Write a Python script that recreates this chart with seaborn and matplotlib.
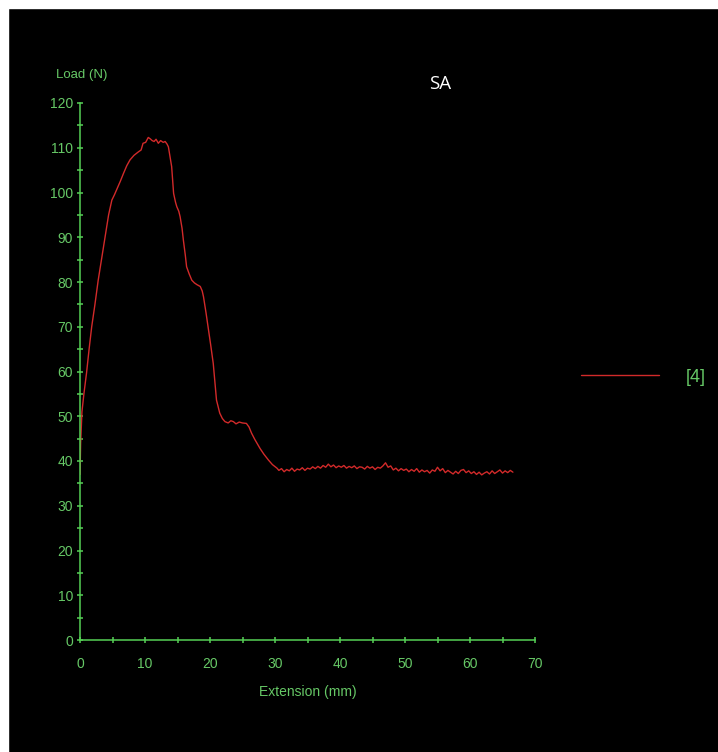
import numpy as np
import pandas as pd
import matplotlib
matplotlib.use("Agg")
import matplotlib.pyplot as plt
from matplotlib.patches import Rectangle
from matplotlib.ticker import MultipleLocator
import seaborn as sns

# Load-extension curve (sample SA, specimen [4])
extension = [
    0.0, 0.1, 0.3, 0.6, 1.0, 1.4, 1.8, 2.3, 2.8, 3.3, 3.85, 4.4, 4.9, 5.3, 5.6,
    6.2, 6.7, 7.2, 7.7, 8.3, 9.0, 9.4, 9.7, 10.1, 10.5, 10.8, 11.1, 11.4, 11.7,
    12.05, 12.4, 12.8, 13.1, 13.4, 13.6, 13.85, 14.1, 14.4, 14.7, 14.9, 15.2,
    15.4, 15.7, 15.9, 16.2, 16.4, 16.8, 17.2, 17.6, 18.0, 18.5, 18.8, 19.0,
    19.4, 19.7, 20.1, 20.5, 20.8, 21.0, 21.3, 21.5, 21.9, 22.3, 22.8, 23.2,
    23.6, 24.0, 24.5, 25.0, 25.6, 26.0, 26.4, 26.9, 27.3, 27.7, 28.3, 29.0,
    29.6, 30.3,
    30.6, 31.0, 31.4, 31.8, 32.2, 32.6, 33.0, 33.4, 33.8, 34.2, 34.6, 35.0,
    35.4, 35.8, 36.2, 36.6, 37.0, 37.4, 37.8, 38.2, 38.6, 39.0, 39.4, 39.8,
    40.2, 40.6, 41.0, 41.4, 41.8, 42.2, 42.6, 43.0, 43.4, 43.8, 44.2, 44.6,
    45.0, 45.4, 45.8, 46.2, 46.6, 47.0, 47.4, 47.8, 48.2, 48.6, 49.0, 49.4,
    49.8, 50.2, 50.6, 51.0, 51.4, 51.8, 52.2, 52.6, 53.0, 53.4, 53.8, 54.2,
    54.6, 55.0, 55.4, 55.8, 56.2, 56.6, 57.0, 57.4, 57.8, 58.2, 58.6, 59.0,
    59.4, 59.8, 60.2, 60.6, 61.0, 61.4, 61.8, 62.2, 62.6, 63.0, 63.4, 63.8,
    64.2, 64.6, 65.0, 65.4, 65.8, 66.2, 66.6,
]
load = [
    37.0, 44.0, 51.0, 55.0, 59.6, 65.0, 70.0, 75.0, 80.4, 85.0, 90.0, 95.0, 98.3, 99.5, 100.5,
    102.5, 104.3, 106.0, 107.3, 108.3, 109.1, 109.5, 111.0, 111.2, 112.3, 112.0, 111.6, 111.4, 111.9,
    111.0, 111.6, 111.2, 111.4, 110.8, 110.2, 108.0, 105.8, 99.8, 97.8, 96.8, 95.8,
    94.6, 92.0, 89.4, 86.0, 83.4, 81.8, 80.4, 79.8, 79.4, 79.0, 78.0, 76.7,
    73.0, 70.0, 66.0, 61.8, 57.0, 53.6, 51.8, 50.7, 49.5, 48.8, 48.5, 49.0,
    48.8, 48.3, 48.7, 48.5, 48.4, 47.6, 46.2, 44.8, 43.8, 42.8, 41.5, 40.2,
    39.2, 38.4,
    37.9, 38.3, 37.6, 38.1, 37.8, 38.4, 37.7, 38.2, 38.0, 38.5, 37.9, 38.4,
    38.2, 38.7, 38.3, 38.8, 38.4, 39.0, 38.6, 39.3, 38.7, 39.1, 38.5, 38.9,
    38.6, 39.0, 38.4, 38.8, 38.5, 38.9, 38.3, 38.7, 38.6, 38.2, 38.8, 38.4,
    38.7, 38.1, 38.6, 38.4, 38.9, 39.6, 38.6, 38.9, 38.0, 38.4, 37.8, 38.3,
    37.9, 38.2, 37.6, 38.1, 37.7, 38.3, 37.5, 38.0, 37.6, 37.9, 37.3, 38.0,
    37.7, 38.6, 37.8, 38.3, 37.4, 37.9, 37.5, 37.1, 37.7, 37.2, 37.9, 38.1,
    37.4, 37.8, 37.2, 37.6, 37.0, 37.5, 36.9, 37.3, 37.6, 37.1, 37.8, 37.2,
    37.6, 38.0, 37.3, 37.8, 37.4, 37.9, 37.5,
]
series_name = "[4]"
title = "SA"

df = pd.DataFrame({"Extension (mm)": extension, "Load (N)": load})

sns.set_theme(style="dark")
plt.rcParams["font.family"] = ["Liberation Sans", "DejaVu Sans"]

green_line = "#55d055"
green_text = "#66c866"
red = "#d22a2a"

fig = plt.figure(figsize=(7.18, 7.52), dpi=100, facecolor="black")
# white frame strips on the top and left edges of the screenshot
fig.patches.append(Rectangle((0, 1 - 8 / 752), 1, 8 / 752, transform=fig.transFigure,
                             color="white", zorder=0))
fig.patches.append(Rectangle((0, 0), 8 / 718, 1, transform=fig.transFigure,
                             color="white", zorder=0))

ax = fig.add_axes([80 / 718, 112 / 752, 455 / 718, 537 / 752])
ax.set_facecolor("black")

sns.lineplot(data=df, x="Extension (mm)", y="Load (N)", ax=ax, color=red,
             linewidth=1.0, label=series_name, sort=False)

ax.set_xlim(0, 70)
ax.set_ylim(0, 120)
ax.xaxis.set_major_locator(MultipleLocator(10))
ax.xaxis.set_minor_locator(MultipleLocator(5))
ax.yaxis.set_major_locator(MultipleLocator(10))
ax.yaxis.set_minor_locator(MultipleLocator(5))
ax.grid(False)

for side in ["top", "right"]:
    ax.spines[side].set_visible(False)
for side in ["left", "bottom"]:
    ax.spines[side].set_visible(True)
    ax.spines[side].set_color(green_line)
    ax.spines[side].set_linewidth(1.1)

ax.tick_params(axis="both", which="both", direction="inout", length=5,
               width=1.1, color=green_line, labelcolor=green_text, labelsize=10)
ax.tick_params(axis="y", which="both", pad=2.5, left=True)
ax.tick_params(axis="x", which="both", pad=10, bottom=True)

ax.set_xlabel("Extension (mm)", color=green_text, fontsize=10, labelpad=10)
ax.set_ylabel("")

fig.text(82 / 718, 1 - 75 / 752, "Load (N)", color=green_text, fontsize=9.5,
         ha="center", va="center")
fig.text(440 / 718, 1 - 84 / 752, title, color="white", fontsize=13.5,
         family=["Open Sans", "DejaVu Sans"], ha="center", va="center")

leg = ax.legend(loc="center left", bbox_to_anchor=(581 / 718, 1 - 377 / 752),
                bbox_transform=fig.transFigure, frameon=False, fontsize=13,
                handlelength=4.3, handletextpad=1.5, borderpad=0, borderaxespad=0)
for t in leg.get_texts():
    t.set_color(green_text)

fig.savefig("out.png", dpi=100, facecolor="black")
